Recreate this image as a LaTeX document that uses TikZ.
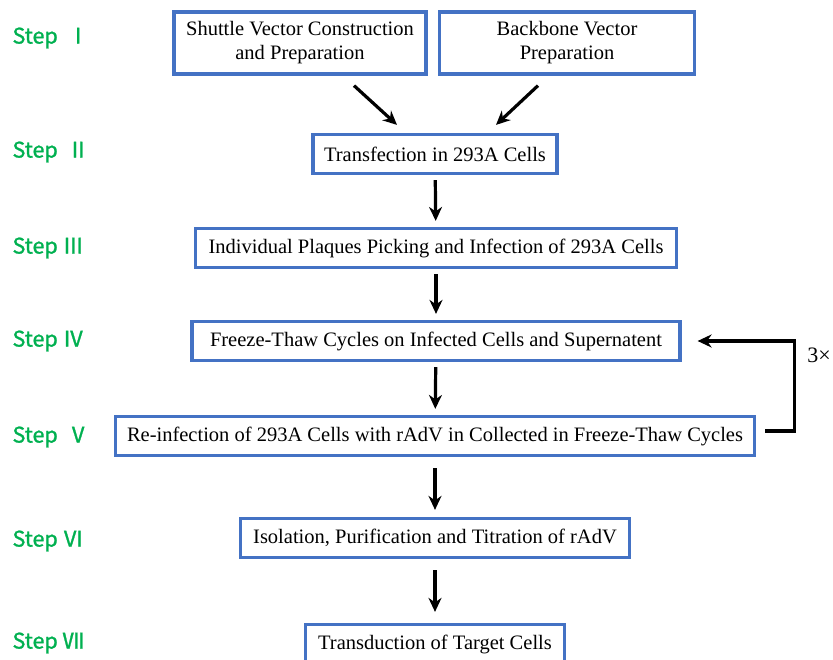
\documentclass[tikz,border=0pt]{standalone}
\usepackage{fontspec}
\setmainfont{Liberation Serif}
\newfontfamily\cjk[FakeBold=1.2]{Noto Sans CJK SC}
\usetikzlibrary{arrows.meta}
\definecolor{stepgreen}{HTML}{00B050}
\definecolor{boxblue}{HTML}{4472C4}

\begin{document}
\begin{tikzpicture}[x=1pt,y=-1pt,
    box/.style={draw=boxblue,line width=3.2pt,fill=white,inner sep=0pt,minimum height=39pt,align=center,font=\fontsize{20.5}{24}\selectfont},
    arr/.style={line width=3.2pt,-{Stealth[length=14pt,width=13pt]}},
    lbl/.style={anchor=west,text=stepgreen,font=\cjk\fontsize{21.5}{24}\selectfont}]
    \useasboundingbox (0,0) rectangle (833,660);
    % step labels
    \node[lbl] (s1) at (9,38) {Step\ \ Ⅰ};
    \node[lbl] (s2) at (9,152) {Step\ \ Ⅱ};
    \node[lbl] (s3) at (9,248) {Step\ Ⅲ};
    \node[lbl] (s4) at (9,341) {Step Ⅳ};
    \node[lbl] (s5) at (9,437) {Step\ \ Ⅴ};
    \node[lbl] (s6) at (9,541) {Step Ⅵ};
    \node[lbl] (s7) at (9,643) {Step Ⅶ};
    % boxes
    \node[box,minimum width=252pt,minimum height=62pt] (shuttle) at (300,43) {Shuttle Vector Construction\\and Preparation};
    \node[box,minimum width=255pt,minimum height=62pt] (backbone) at (567,43) {Backbone Vector\\Preparation};
    \node[box,minimum width=244pt] (transf) at (435,154) {Transfection in 293A Cells};
    \node[box,minimum width=481pt] (plaque) at (436,248) {Individual Plaques Picking and Infection of 293A Cells};
    \node[box,minimum width=488pt] (freeze) at (436,341) {Freeze-Thaw Cycles on Infected Cells and Supernatent};
    \node[box,minimum width=639pt] (reinf) at (435,436) {Re-infection of 293A Cells with rAdV in Collected in Freeze-Thaw Cycles};
    \node[box,minimum width=389pt] (purif) at (435,538) {Isolation, Purification and Titration of rAdV};
    \node[box,minimum width=259pt] (transd) at (435,644) {Transduction of Target Cells};
    % arrows
    \draw[arr] ([xshift=54pt,yshift=-10pt]shuttle.south) -- ([xshift=-38pt,yshift=8pt]transf.north);
    \draw[arr] ([xshift=-29pt,yshift=-10pt]backbone.south) -- ([xshift=61pt,yshift=8pt]transf.north);
    \draw[arr,shorten <=5pt,shorten >=6pt] (transf) -- (plaque);
    \draw[arr,shorten <=5pt,shorten >=6pt] (plaque) -- (freeze);
    \draw[arr,shorten <=5pt,shorten >=6pt] (freeze) -- (reinf);
    \draw[arr,shorten <=11pt,shorten >=7pt] (reinf) -- (purif);
    \draw[arr,shorten <=11pt,shorten >=11pt] (purif) -- (transd);
    % repeat loop
    \draw[arr] ([xshift=9pt,yshift=5pt]reinf.east) -- ++(29,0) |- ([xshift=16pt]freeze.east);
    \node[font=\fontsize{22}{24}\selectfont] (rep) at (819,355) {3×};
\end{tikzpicture}
\end{document}
